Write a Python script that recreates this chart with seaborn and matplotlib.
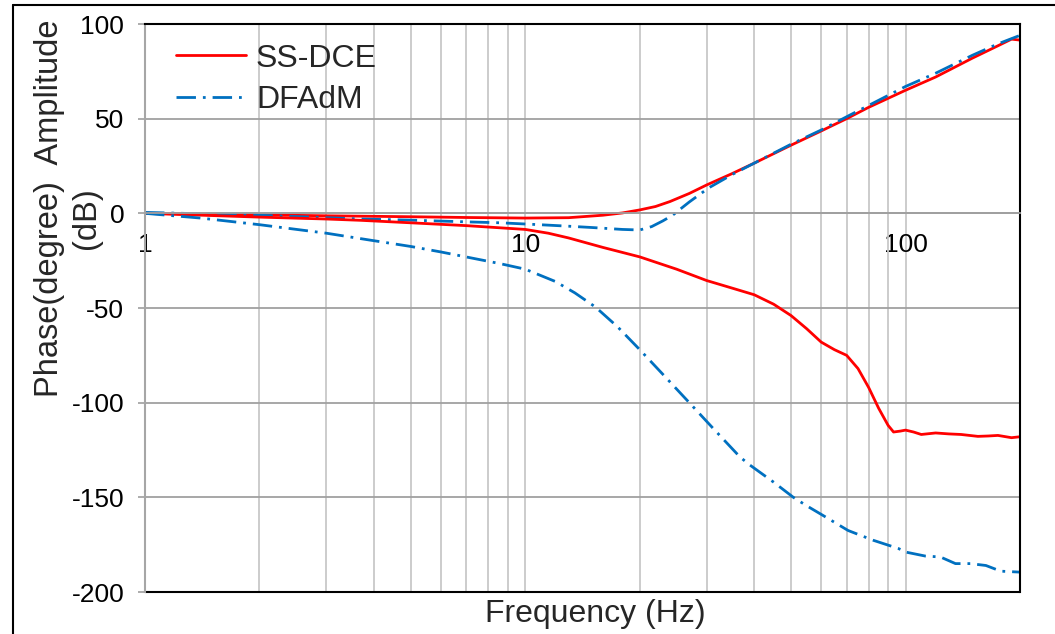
import numpy as np
import pandas as pd
import matplotlib
matplotlib.use("Agg")
import matplotlib.pyplot as plt
import seaborn as sns
from matplotlib.lines import Line2D
from matplotlib.ticker import FixedLocator, NullFormatter

# ---- data ----
ss_amp_f = [1, 2, 3, 5, 7, 10, 13, 16, 18, 20, 22, 24, 27, 30, 35, 40, 50, 60, 70, 80, 100, 120, 150, 175, 190, 200]
ss_amp_v = [0, -0.8, -1.3, -1.8, -2.2, -2.5, -2.3, -1.0, 0.2, 1.8, 3.6, 6.2, 10.5, 15, 21, 26.5, 36, 43.5, 50, 56, 65, 72, 82, 88.5, 92, 91.5]

df_amp_f = [1, 2, 3, 3.7, 5, 7, 8.6, 10.9, 13, 15, 18, 20, 21.5, 23, 24.4, 27, 30.4, 35, 40, 50, 60, 70, 80, 100, 120, 150, 175, 200]
df_amp_v = [0.5, -1, -2.3, -3, -3.6, -4.5, -5, -6, -6.8, -7.5, -8.5, -8.8, -7, -4, -1, 6, 13.5, 20.5, 26.5, 36.5, 44, 51, 57, 67, 74, 83.5, 89.5, 94]

ss_ph_f = [1, 2, 3, 3.7, 5, 7, 10, 11.5, 13, 16, 20, 25, 30, 35, 40, 45, 50, 55, 60, 65, 70, 75, 80, 85, 90, 93, 97, 100, 105, 110, 120, 130, 140, 155, 165, 175, 190, 200]
ss_ph_v = [0, -2, -3, -3.7, -5, -6.5, -8.5, -10.5, -13, -18, -23, -29.5, -35.5, -39.5, -43, -48, -54, -61, -68, -72, -75, -82, -92, -103, -112, -115.5, -115, -114.5, -115.5, -116.8, -116, -116.5, -116.8, -117.8, -117.6, -117.3, -118.5, -118]

df_ph_f = [1, 1.4, 2, 3, 3.7, 5, 6, 8.6, 10, 12, 13.5, 15.3, 17.5, 20, 23, 27, 31, 36.7, 39, 45, 50.7, 55, 60.6, 70.6, 82.3, 95.7, 100.6, 112.6, 123.5, 135.3, 148, 162.7, 178, 200]
df_ph_v = [0, -2.5, -6, -10.5, -13.4, -17.5, -20.4, -26.6, -29.5, -36, -42, -49.5, -60, -72, -85, -100, -113, -128.7, -133, -142, -150, -154.5, -159.5, -167.5, -172.7, -177, -179, -181, -181.5, -185, -185, -186, -189, -189.5]

series_labels = ["SS-DCE", "DFAdM"]
x_tick_vals = [1, 10, 100]
x_tick_labels = ["1", "10", "100"]
y_tick_vals = [100, 50, 0, -50, -100, -150, -200]

RED = "#FF0000"
BLUE = "#0070C0"

sns.set_theme(style="white")
plt.rcParams["font.family"] = ["Liberation Sans", "DejaVu Sans"]
plt.rcParams["axes.unicode_minus"] = False

fig = plt.figure(figsize=(10.55, 6.34), dpi=100)
ax = fig.add_axes([145 / 1055, 1 - 592 / 634, (1020 - 145) / 1055, (592 - 24) / 634])

dash = (0, (7, 2.5, 1, 2.5))

sns.lineplot(x=ss_amp_f, y=ss_amp_v, ax=ax, color=RED, lw=2, label=series_labels[0], sort=True, estimator=None)
sns.lineplot(x=df_amp_f, y=df_amp_v, ax=ax, color=BLUE, lw=2, label=series_labels[1], sort=True, estimator=None)
sns.lineplot(x=ss_ph_f, y=ss_ph_v, ax=ax, color=RED, lw=2, sort=True, estimator=None)
sns.lineplot(x=df_ph_f, y=df_ph_v, ax=ax, color=BLUE, lw=2, sort=True, estimator=None)
for i, ln in enumerate(ax.get_lines()):
    if i % 2 == 1:
        ln.set_linestyle(dash)

ax.set_xscale("log")
ax.set_xlim(1, 200)
ax.set_ylim(-200, 100)

# grid
minor = [m * 10 ** e for e in range(0, 3) for m in range(1, 10) if m * 10 ** e <= 200]
ax.xaxis.set_minor_locator(FixedLocator(minor))
ax.xaxis.set_minor_formatter(NullFormatter())
ax.set_xticks(x_tick_vals)
ax.set_xticklabels(x_tick_labels)
ax.set_yticks(y_tick_vals)
ax.set_yticklabels([str(v) for v in y_tick_vals])
ax.grid(True, axis="x", which="both", color="#C8C8C8", lw=1.3)
ax.grid(True, axis="y", which="major", color="#A0A0A0", lw=1.3)
ax.set_axisbelow(True)

# spines
ax.spines["top"].set_color("black")
ax.spines["right"].set_color("black")
ax.spines["top"].set_linewidth(1.5)
ax.spines["right"].set_linewidth(1.5)
ax.spines["left"].set_color("#A6A6A6")
ax.spines["left"].set_linewidth(1.5)
ax.spines["bottom"].set_position(("data", 0))
ax.spines["bottom"].set_color("#A0A0A0")
ax.spines["bottom"].set_linewidth(1.3)
ax.plot([0, 1], [0, 0], transform=ax.transAxes, color="black", lw=1.5, clip_on=False)

ax.tick_params(axis="x", which="both", length=0, pad=14, labelsize=19, colors="black")
ax.tick_params(axis="y", which="major", length=5, width=1.3, color="#A6A6A6", pad=10, labelsize=19, labelcolor="black", left=True)

ax.set_xlabel("")
ax.set_ylabel("")
fig.text(595 / 1055, 1 - 614 / 634, "Frequency (Hz)", ha="center", va="center", fontsize=23)

# y-axis title on two lines (two texts so they do not box over the tick labels)
fig.text(50 / 1055, 1 - 208 / 634, "Phase(degree)  Amplitude", rotation=90,
         ha="center", va="center", fontsize=23.5)
fig.text(86 / 1055, 1 - 218 / 634, "(dB)", rotation=90,
         ha="center", va="center", fontsize=23.5)

leg = ax.legend(loc="upper left", frameon=False, fontsize=23, handlelength=2.2,
                borderaxespad=0.3, labelspacing=0.35, handletextpad=0.3,
                bbox_to_anchor=(0.01, 1.005))

# outer figure border (left and top only)
fig.add_artist(Line2D([13 / 1055, 13 / 1055], [0, 1 - 5 / 634], color="black", lw=1.5, transform=fig.transFigure))
fig.add_artist(Line2D([13 / 1055, 1], [1 - 5 / 634, 1 - 5 / 634], color="black", lw=1.5, transform=fig.transFigure))

fig.savefig("out.png", dpi=100)
